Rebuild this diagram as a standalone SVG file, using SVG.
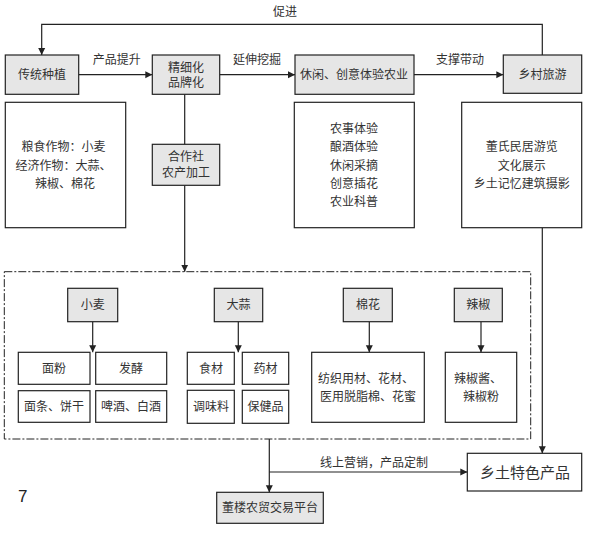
<svg xmlns="http://www.w3.org/2000/svg" width="593" height="533" viewBox="0 0 593 533">
<style>
.box{fill:#fff;stroke:#222;stroke-width:1.2}
.g{fill:#e6e6e6}
.t{font-family:"Liberation Sans","Noto Sans CJK SC",sans-serif;font-size:12px;fill:#333;text-anchor:middle}
.ln{fill:none;stroke:#222;stroke-width:1.2}
.dash{fill:none;stroke:#222;stroke-width:1;stroke-dasharray:8 2 2 2}
</style>
<defs>
<marker id="ar" viewBox="0 0 10 10" refX="10" refY="5" markerWidth="7" markerHeight="9" markerUnits="userSpaceOnUse" orient="auto">
<path d="M0,0 L10,5 L0,10 z" fill="#222"/>
</marker>
</defs>
<rect width="593" height="533" fill="#fff"/>

<g id="connectors">
<path class="ln" d="M542.3,55 V24.3 H41.7 V55" marker-end="url(#ar)"/>
<path class="ln" d="M78.7,74.7 H152.3" marker-end="url(#ar)"/>
<path class="ln" d="M219.7,74.7 H295" marker-end="url(#ar)"/>
<path class="ln" d="M414,74.7 H503.3" marker-end="url(#ar)"/>
<path class="ln" d="M184.7,94.3 V144.3"/>
<path class="ln" d="M184.7,185.3 V271.7" marker-end="url(#ar)"/>
<path class="ln" d="M542.3,228 V453.3" marker-end="url(#ar)"/>
<path class="ln" d="M92.7,321.7 V352.3" marker-end="url(#ar)"/>
<path class="ln" d="M238.3,321.7 V352.3" marker-end="url(#ar)"/>
<path class="ln" d="M369.3,321.7 V352.3" marker-end="url(#ar)"/>
<path class="ln" d="M481,321.7 V352.3" marker-end="url(#ar)"/>
<path class="ln" d="M269.3,439 V492.3" marker-end="url(#ar)"/>
<path class="ln" d="M269.3,472 H467.3" marker-end="url(#ar)"/>
<text class="t" x="285" y="16">促进</text>
<text class="t" x="116.7" y="64">产品提升</text>
<text class="t" x="257" y="64">延伸挖掘</text>
<text class="t" x="460" y="64">支撑带动</text>
<text class="t" x="374" y="467">线上营销，产品定制</text>
</g>

<g id="chuantong">
<rect class="box g" x="5.3" y="55" width="73.4" height="39.3"/>
<text class="t" x="42" y="79">传统种植</text>
</g>
<g id="jingxi">
<rect class="box g" x="152.3" y="55" width="67.4" height="39.3"/>
<text class="t" x="186" y="72">精细化</text>
<text class="t" x="186" y="87">品牌化</text>
</g>
<g id="xiuxian">
<rect class="box g" x="295" y="55" width="119" height="39.3"/>
<text class="t" x="354" y="79">休闲、创意体验农业</text>
</g>
<g id="xiangcun">
<rect class="box g" x="503.3" y="55" width="78.4" height="38.3"/>
<text class="t" x="542.5" y="79">乡村旅游</text>
</g>
<g id="liangshi">
<rect class="box" x="5.3" y="102.3" width="120.4" height="125.4"/>
<text class="t" x="63.5" y="151">粮食作物：小麦</text>
<text class="t" x="63.5" y="170">经济作物：大蒜、</text>
<text class="t" x="65" y="188">辣椒、棉花</text>
</g>
<g id="nongshi">
<rect class="box" x="294.3" y="102.3" width="120" height="125.4"/>
<text class="t" x="354" y="133">农事体验</text>
<text class="t" x="354" y="151">酿酒体验</text>
<text class="t" x="354" y="170">休闲采摘</text>
<text class="t" x="354" y="188">创意插花</text>
<text class="t" x="354" y="206">农业科普</text>
</g>
<g id="dongshi">
<rect class="box" x="461.7" y="102.3" width="120" height="125.4"/>
<text class="t" x="521.7" y="151">董氏民居游览</text>
<text class="t" x="521.7" y="170">文化展示</text>
<text class="t" x="521.7" y="188">乡土记忆建筑摄影</text>
</g>
<g id="hezuoshe">
<rect class="box g" x="152.3" y="144.3" width="67.4" height="41"/>
<text class="t" x="186" y="161">合作社</text>
<text class="t" x="186" y="177">农产加工</text>
</g>

<g id="processing">
<rect class="dash" x="4.3" y="271.7" width="526.4" height="167.3"/>
</g>
<g id="xiaomai">
<rect class="box g" x="67.7" y="288.3" width="50" height="33.4"/>
<text class="t" x="92.7" y="309">小麦</text>
</g>
<g id="mianfen">
<rect class="box" x="18.3" y="352.3" width="71.7" height="32"/>
<text class="t" x="54" y="372.5">面粉</text>
</g>
<g id="fajiao">
<rect class="box" x="95.7" y="352.3" width="71" height="32"/>
<text class="t" x="131" y="372.5">发酵</text>
</g>
<g id="miantiao">
<rect class="box" x="18.3" y="390.7" width="71.7" height="31.6"/>
<text class="t" x="54" y="411">面条、饼干</text>
</g>
<g id="pijiu">
<rect class="box" x="95.7" y="390.7" width="71" height="31.6"/>
<text class="t" x="131" y="411">啤酒、白酒</text>
</g>
<g id="dasuan">
<rect class="box g" x="214.3" y="288.3" width="48.4" height="33.4"/>
<text class="t" x="238.5" y="309">大蒜</text>
</g>
<g id="shicai">
<rect class="box" x="187.3" y="352.3" width="47" height="32"/>
<text class="t" x="211" y="372.5">食材</text>
</g>
<g id="yaocai">
<rect class="box" x="242.3" y="352.3" width="46.4" height="32"/>
<text class="t" x="265.5" y="372.5">药材</text>
</g>
<g id="tiaowei">
<rect class="box" x="187.3" y="390.3" width="47" height="33"/>
<text class="t" x="211" y="411">调味料</text>
</g>
<g id="baojian">
<rect class="box" x="242.3" y="390.3" width="46.4" height="33"/>
<text class="t" x="265.5" y="411">保健品</text>
</g>
<g id="mianhua">
<rect class="box g" x="343.3" y="288.3" width="49" height="33.4"/>
<text class="t" x="368" y="309">棉花</text>
</g>
<g id="fangzhi">
<rect class="box" x="311.7" y="352.3" width="112.6" height="70"/>
<text class="t" x="366" y="383">纺织用材、花材、</text>
<text class="t" x="368" y="401">医用脱脂棉、花蜜</text>
</g>
<g id="lajiao">
<rect class="box g" x="454.3" y="288.3" width="48" height="33.4"/>
<text class="t" x="478.3" y="309">辣椒</text>
</g>
<g id="lajiaojiang">
<rect class="box" x="445.3" y="352.3" width="71.4" height="70"/>
<text class="t" x="478" y="383">辣椒酱、</text>
<text class="t" x="481" y="401">辣椒粉</text>
</g>

<g id="dongl">
<rect class="box g" x="216.7" y="492.3" width="106.6" height="31"/>
<text class="t" x="270" y="512">董楼农贸交易平台</text>
</g>
<g id="xiangtu">
<rect class="box" x="467.3" y="453.3" width="114.4" height="37.7"/>
<text class="t" x="525" y="477.5" style="font-size:15px">乡土特色产品</text>
</g>
<text x="18" y="502" style="font-family:'Liberation Sans',sans-serif;font-size:17px;fill:#222">7</text>
</svg>
